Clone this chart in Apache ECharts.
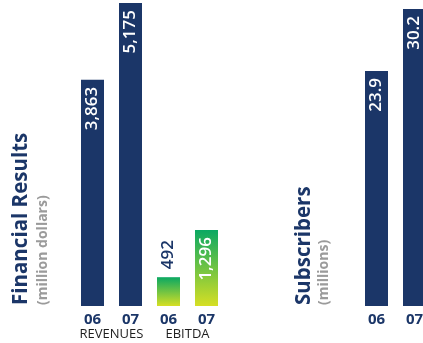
<!DOCTYPE html>
<html>
<head>
<meta charset="utf-8">
<script src="https://cdn.jsdelivr.net/npm/echarts@6/dist/echarts.min.js"></script>
<style>
  html, body { margin: 0; padding: 0; background: #fff; }
  #chart { width: 423px; height: 343px; }
</style>
</head>
<body>
<div id="chart"></div>
<script>
// Financial results (million dollars)
const finYears = ['06', '07', '06', '07'];
const finGroups = ['REVENUES', 'EBITDA'];
const revenues = [3863, 5175, null, null];
const ebitda = [null, null, 492, 1296];

// Subscribers (millions)
const subYears = ['06', '07'];
const subscribers = [23.9, 30.2];

const NAVY = '#1b3668';
const FONT = '"Open Sans", "Noto Sans", sans-serif';

const fmt = v => v.toLocaleString('en-US');

const insideLabel = {
  show: true,
  position: 'insideTop',
  rotate: 90,
  align: 'right',
  verticalAlign: 'middle',
  distance: 7,
  color: '#ffffff',
  fontFamily: FONT,
  fontWeight: 600,
  fontSize: 17,
  formatter: p => fmt(p.value)
};
const outsideLabel = {
  show: true,
  position: 'top',
  rotate: 90,
  align: 'left',
  verticalAlign: 'middle',
  distance: 8,
  color: NAVY,
  fontFamily: FONT,
  fontWeight: 600,
  fontSize: 17,
  formatter: p => fmt(p.value)
};

const ebitdaFill = new echarts.graphic.LinearGradient(0, 0, 0, 1, [
  { offset: 0, color: '#0aa862' },
  { offset: 1, color: '#d6df24' }
]);

// short bars get their value above the bar instead of inside
const ebitdaData = ebitda.map(v => v == null ? null :
  { value: v, label: v < 800 ? outsideLabel : insideLabel });

const yearAxisLabel = {
  color: NAVY, fontFamily: FONT, fontWeight: 'bold', fontSize: 15, margin: 6, interval: 0
};

const chart = echarts.init(document.getElementById('chart'), null, { renderer: 'canvas' });

chart.setOption({
  animation: false,
  backgroundColor: '#ffffff',
  grid: [
    { left: 73.5, width: 152, top: 3, bottom: 37, outerBoundsMode: 'none' },
    { left: 357.5, width: 76, top: 9, bottom: 37, outerBoundsMode: 'none' }
  ],
  xAxis: [
    {
      gridIndex: 0, type: 'category', data: finYears,
      axisLine: { show: false }, axisTick: { show: false },
      axisLabel: yearAxisLabel
    },
    {
      gridIndex: 0, type: 'category', data: finGroups, position: 'bottom',
      axisLine: { show: false }, axisTick: { show: false },
      axisLabel: { color: '#1e1e1e', fontFamily: FONT, fontSize: 13, margin: 22, interval: 0 }
    },
    {
      gridIndex: 1, type: 'category', data: subYears,
      axisLine: { show: false }, axisTick: { show: false },
      axisLabel: yearAxisLabel
    }
  ],
  yAxis: [
    { gridIndex: 0, type: 'value', min: 0, max: 5175, show: false },
    { gridIndex: 1, type: 'value', min: 0, max: 30.2, show: false }
  ],
  series: [
    {
      name: 'Revenues', type: 'bar', xAxisIndex: 0, yAxisIndex: 0,
      data: revenues, barWidth: 23, barGap: '-100%',
      itemStyle: { color: NAVY }, label: insideLabel
    },
    {
      name: 'EBITDA', type: 'bar', xAxisIndex: 0, yAxisIndex: 0,
      data: ebitdaData, barWidth: 23, barGap: '-100%',
      itemStyle: { color: ebitdaFill }, label: insideLabel
    },
    {
      name: 'Subscribers', type: 'bar', xAxisIndex: 2, yAxisIndex: 1,
      data: subscribers, barWidth: 23, clip: false,
      itemStyle: { color: NAVY },
      label: Object.assign({}, insideLabel, { formatter: p => p.value.toFixed(1) })
    }
  ],
  graphic: [
    {
      type: 'text', x: 21, y: 305, rotation: Math.PI / 2,
      style: { text: 'Financial Results', fill: NAVY, font: 'bold 20.5px ' + FONT,
               textAlign: 'left', textVerticalAlign: 'middle' }
    },
    {
      type: 'text', x: 43, y: 305, rotation: Math.PI / 2,
      style: { text: '(million dollars)', fill: '#9b9b9b', font: 'bold 14px ' + FONT,
               textAlign: 'left', textVerticalAlign: 'middle' }
    },
    {
      type: 'text', x: 304, y: 305, rotation: Math.PI / 2,
      style: { text: 'Subscribers', fill: NAVY, font: 'bold 20.5px ' + FONT,
               textAlign: 'left', textVerticalAlign: 'middle' }
    },
    {
      type: 'text', x: 324, y: 305, rotation: Math.PI / 2,
      style: { text: '(millions)', fill: '#9b9b9b', font: 'bold 14px ' + FONT,
               textAlign: 'left', textVerticalAlign: 'middle' }
    }
  ]
});
</script>
</body>
</html>
